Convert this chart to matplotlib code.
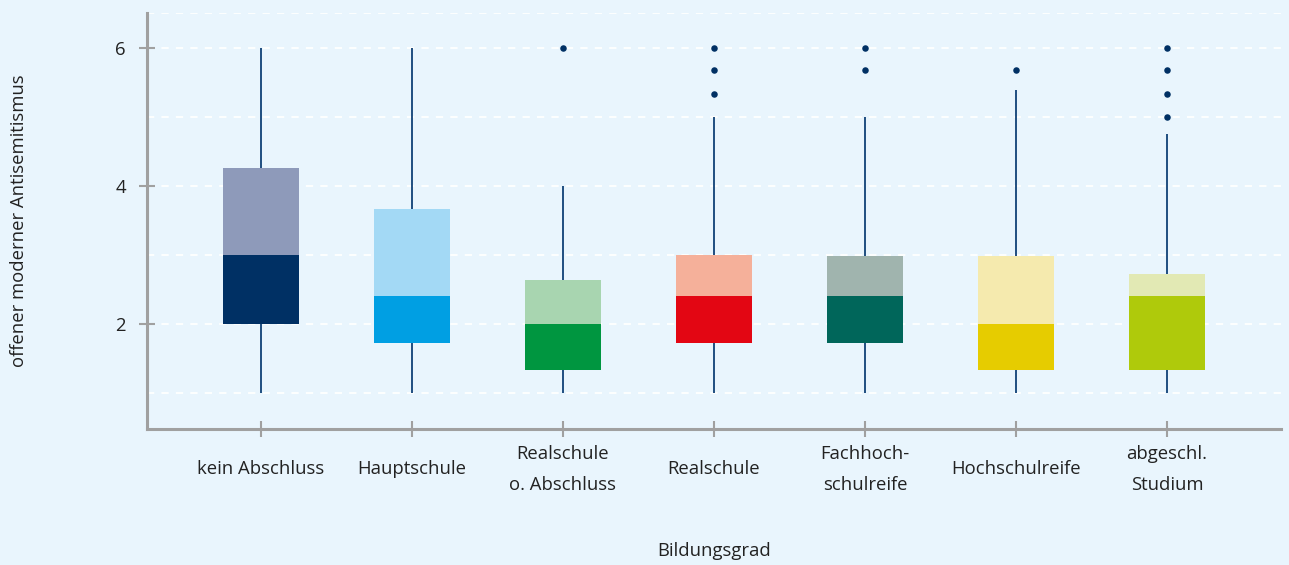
import matplotlib
matplotlib.use("Agg")
import matplotlib.pyplot as plt

plt.rcParams['font.family'] = ['Open Sans', 'DejaVu Sans']

# data
categories = ["kein Abschluss", "Hauptschule", "Realschule\no. Abschluss", "Realschule",
              "Fachhoch-\nschulreife", "Hochschulreife", "abgeschl.\nStudium"]
whisk_low = [1.0, 1.0, 1.0, 1.0, 1.0, 1.0, 1.0]
q1 = [2.0, 1.73, 1.33, 1.73, 1.73, 1.33, 1.33]
median = [3.0, 2.4, 2.0, 2.4, 2.4, 2.0, 2.4]
q3 = [4.25, 3.67, 2.64, 3.0, 2.98, 2.98, 2.73]
whisk_high = [6.0, 6.0, 4.0, 5.0, 5.0, 5.38, 4.75]
outliers = [[], [], [6.0], [6.0, 5.67, 5.33], [6.0, 5.67], [5.67], [6.0, 5.67, 5.33, 5.0]]

dark_colors = ["#003064", "#009fe3", "#009640", "#e30613", "#00665a", "#e6cc00", "#afca0b"]
light_colors = ["#8e9aba", "#a3d9f5", "#a8d5b0", "#f5b09a", "#a0b4ae", "#f5eaae", "#e2e9b4"]

bg = "#e9f5fd"
axis_gray = "#a0a0a0"
text_col = "#222222"
fs = 13.3

fig = plt.figure(figsize=(12.89, 5.65), dpi=100)
fig.patch.set_facecolor(bg)
ax = fig.add_axes([0.114, 0.2407, 0.8798, 0.7363])
ax.set_facecolor(bg)

x = list(range(len(categories)))

# grid
for g in [1, 2, 3, 4, 5, 6, 6.5]:
    ax.axhline(g, color="white", lw=1.3, ls=(0, (4, 4)), zorder=0)

# whiskers
ax.vlines(x, whisk_low, q1, color="#1f4e80", lw=1.4, zorder=1)
ax.vlines(x, q3, whisk_high, color="#1f4e80", lw=1.4, zorder=1)

# boxes (lower half dark, upper half light)
lower = [m - a for m, a in zip(median, q1)]
upper = [b - m for m, b in zip(median, q3)]
ax.bar(x, lower, bottom=q1, width=0.5, color=dark_colors, zorder=2)
ax.bar(x, upper, bottom=median, width=0.5, color=light_colors, zorder=2)

# outliers
for i, vals in enumerate(outliers):
    if vals:
        ax.scatter([i] * len(vals), vals, s=22, color="#003064", zorder=3, linewidths=0)

ax.set_xlim(-0.755, 6.755)
ax.set_ylim(0.48, 6.5)

ax.set_yticks([2, 4, 6])
ax.set_xticks(x)
ax.set_xticklabels(categories, fontsize=fs, color=text_col, linespacing=1.95)
for lab in ax.get_xticklabels():
    lab.set_verticalalignment("center")
ax.tick_params(axis="x", direction="inout", length=11, width=1.5, color=axis_gray, pad=23.5)
ax.tick_params(axis="y", direction="inout", length=11, width=1.5, color=axis_gray,
               labelsize=fs, labelcolor=text_col, pad=9.7)

for s in ["top", "right"]:
    ax.spines[s].set_visible(False)
for s in ["left", "bottom"]:
    ax.spines[s].set_color(axis_gray)
    ax.spines[s].set_linewidth(2.2)

ax.set_xlabel("Bildungsgrad", fontsize=fs, color=text_col, va="center")
ax.xaxis.set_label_coords(0.5, -0.293)
ax.set_ylabel("offener moderner Antisemitismus", fontsize=fs, color=text_col, va="center")
ax.yaxis.set_label_coords(-0.1129, 0.5)

fig.savefig("out.png", dpi=100, facecolor=bg)
